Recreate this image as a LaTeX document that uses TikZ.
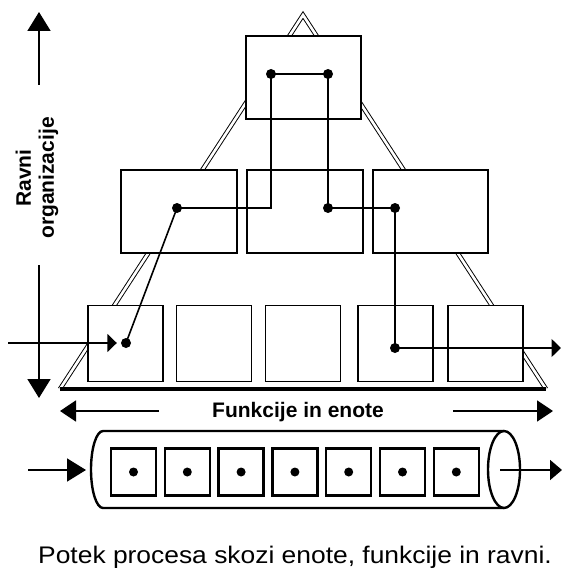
\documentclass[tikz,border=0pt]{standalone}
\usepackage{fontspec}
\setmainfont{Liberation Sans}
\newfontfamily\capfont[FakeStretch=1.1]{Liberation Sans}
\usetikzlibrary{arrows.meta}

\tikzset{
  unitbox/.style={draw, fill=white, line width=1.3pt, inner sep=0pt},
  cellbox/.style={draw, fill=white, line width=2.4pt, inner sep=0pt,
                  minimum width=45pt, minimum height=47pt},
  dot/.style={circle, fill=black, inner sep=0pt, minimum size=10pt},
  smalldot/.style={circle, fill=black, inner sep=0pt, minimum size=9pt},
  flow/.style={line width=1.6pt},
  flowtip/.style={flow, -{Triangle[length=9.5pt, width=18pt]}},
  bigtip/.style={line width=1.8pt, -{Triangle[length=19pt, width=23pt]}},
  pyramid/.style={double, double distance=2.6pt, line width=0.95pt},
  cyl/.style={line width=2.4pt},
  lbl/.style={font=\bfseries\fontsize{21}{23}\selectfont}
}

\begin{document}
\begin{tikzpicture}[x=1pt, y=-1pt]
\useasboundingbox (0,0) rectangle (562,572);

% pyramid of levels
\coordinate (apex) at (303,15);
\coordinate (baseL) at (60,389);
\coordinate (baseR) at (546,389);
\draw[pyramid] (baseL) -- (apex) -- (baseR);
\draw[line width=4pt] (baseL) -- (baseR);

% top level
\node[unitbox, minimum width=115pt, minimum height=83pt] (top) at (303.5,77.5) {};
% middle level
\node[unitbox, minimum width=116pt, minimum height=83pt] (mA) at (179,211.5) {};
\node[unitbox, minimum width=116pt, minimum height=83pt] (mB) at (305,211.5) {};
\node[unitbox, minimum width=115pt, minimum height=83pt] (mC) at (430.5,211.5) {};
% bottom level
\foreach \x/\n in {125.5/bA, 214/bB, 303/bC, 395.5/bD, 485.5/bE}
  \node[unitbox, minimum width=75pt, minimum height=76pt] (\n) at (\x,343.5) {};

% process points
\node[dot] (t1) at (271,74) {};
\node[dot] (t2) at (328,74) {};
\node[dot] (m1) at (177,208) {};
\node[dot] (m2) at (328,208) {};
\node[dot] (m3) at (395,208) {};
\node[dot] (b1) at (126,343) {};
\node[dot] (b2) at (395,348) {};

% process path
\draw[flow] (m1.center) -- (m1.center -| t1.center) -- (t1.center) -- (t2.center)
            -- (m2.center) -- (m3.center) -- (b2.center);
\draw[flow] (m1.center) -- (b1.center);
\coordinate (pin) at (8,343);
\coordinate (pout) at (561,348);
\draw[flowtip] (pin) -- ([xshift=-4pt]b1.west);
\draw[flowtip] (b2.center) -- (pout);

% levels axis
\coordinate (upS) at (39,85);
\coordinate (upE) at (39,12);
\coordinate (dnS) at (39,265);
\coordinate (dnE) at (39,398);
\draw[bigtip] (upS) -- (upE);
\draw[bigtip] (dnS) -- (dnE);
\node[lbl, rotate=90, align=center] (levels) at (37,178) {Ravni\\organizacije};

% functions axis
\node[lbl, anchor=base] (func) at (298,417) {Funkcije in enote};
\coordinate (fL1) at (159,411);
\coordinate (fL2) at (60,411);
\coordinate (fR1) at (453,411);
\coordinate (fR2) at (553,411);
\draw[line width=1.8pt, -{Triangle[length=16pt, width=21pt]}] (fL1) -- (fL2);
\draw[line width=1.8pt, -{Triangle[length=16pt, width=21pt]}] (fR1) -- (fR2);

% process pipe
\draw[cyl] (103,431) -- (504,431) (504,508) -- (103,508)
  arc[start angle=90, end angle=270, x radius=12, y radius=38.5];
\draw[cyl] (504,469.5) ellipse[x radius=16, y radius=38.5];
\foreach \i in {0,...,6} {
  \node[cellbox] (c\i) at ({133.5+53.8*\i},472) {};
  \node[smalldot] (d\i) at (c\i.center) {};
}
\coordinate (cin) at (28,470);
\coordinate (cinE) at (86,470);
\coordinate (cout) at (500,470);
\coordinate (coutE) at (562,470);
\draw[bigtip] (cin) -- (cinE);
\draw[line width=1.8pt, -{Triangle[length=12pt, width=20pt]}] (cout) -- (coutE);

% caption
\node[anchor=base, font=\capfont\fontsize{24}{28}\selectfont] (cap) at (295,563)
  {Potek procesa skozi enote, funkcije in ravni.};
\end{tikzpicture}
\end{document}
